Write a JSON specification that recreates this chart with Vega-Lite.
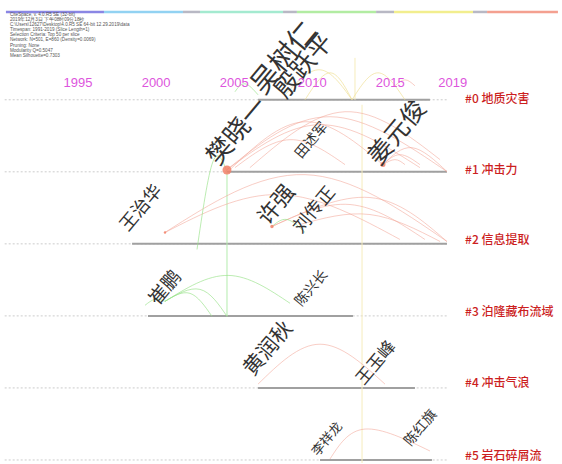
{
 "$schema": "https://vega.github.io/schema/vega-lite/v6.json",
 "width": 562, "height": 464,
 "autosize": {"type": "fit", "contains": "padding"},
 "padding": 0,
 "background": "white",
 "config": {"view": {"stroke": null}},
 "datasets": {
  "bar": [
   {"x": 1990.38, "x2": 1996.66, "y": -1.219, "k": "1"},
   {"x": 1996.66, "x2": 2001.72, "y": -1.219, "k": "2"},
   {"x": 2001.72, "x2": 2002.81, "y": -1.219, "k": "g"},
   {"x": 2002.81, "x2": 2008.13, "y": -1.219, "k": "3"},
   {"x": 2008.13, "x2": 2009.02, "y": -1.219, "k": "g"},
   {"x": 2009.02, "x2": 2014.09, "y": -1.219, "k": "4"},
   {"x": 2014.09, "x2": 2015.24, "y": -1.219, "k": "g"},
   {"x": 2015.24, "x2": 2020.30, "y": -1.219, "k": "5"},
   {"x": 2020.30, "x2": 2021.20, "y": -1.219, "k": "g"},
   {"x": 2021.20, "x2": 2025.74, "y": -1.219, "k": "6"}
  ],
  "lanes": [
   {"y": 0, "x": 2006.53, "x2": 2017.54, "d0": 1990.3, "d1": 2018.63},
   {"y": 1, "x": 2004.54, "x2": 2018.63, "d0": 1990.3, "d1": 2018.63},
   {"y": 2, "x": 1998.46, "x2": 2018.63, "d0": 1990.3, "d1": 2018.63},
   {"y": 3, "x": 1999.48, "x2": 2012.61, "d0": 1990.3, "d1": 2018.63},
   {"y": 4, "x": 2006.53, "x2": 2016.58, "d0": 1990.3, "d1": 2018.63},
   {"y": 5, "x": 2010.50, "x2": 2017.67, "d0": 1990.3, "d1": 2018.63}
  ],
  "vgreen": [{"x": 2004.54, "y": 1, "y2": 3.006}],
  "vyellow": [{"x": 2013.19, "y": 0.069, "y2": 5.042}, {"x": 2012.74, "y": -0.582, "y2": 0}],
  "arcsP": [
   {"id": "A1", "o": 1, "x": 2004.54, "y": 0.970}, {"id": "A1", "o": 2, "x": 2011.14, "y": 0.235}, {"id": "A1", "o": 3, "x": 2018.63, "y": 0.997},
   {"id": "A2", "o": 1, "x": 2004.54, "y": 0.970}, {"id": "A2", "o": 2, "x": 2010.50, "y": 0.346}, {"id": "A2", "o": 3, "x": 2016.90, "y": 0.942},
   {"id": "A3", "o": 1, "x": 2004.73, "y": 0.970}, {"id": "A3", "o": 2, "x": 2009.54, "y": 0.305}, {"id": "A3", "o": 3, "x": 2014.53, "y": 0.900},
   {"id": "A4", "o": 1, "x": 2005.05, "y": 0.942}, {"id": "A4", "o": 2, "x": 2008.58, "y": 0.554}, {"id": "A4", "o": 3, "x": 2012.10, "y": 0.900},
   {"id": "A5", "o": 1, "x": 2014.53, "y": 0.900}, {"id": "A5", "o": 2, "x": 2016.39, "y": 0.665}, {"id": "A5", "o": 3, "x": 2018.63, "y": 0.997},
   {"id": "A6", "o": 1, "x": 2014.53, "y": 0.900}, {"id": "A6", "o": 2, "x": 2015.62, "y": 0.762}, {"id": "A6", "o": 3, "x": 2016.90, "y": 0.900},
   {"id": "A7", "o": 1, "x": 2014.53, "y": 0.900}, {"id": "A7", "o": 2, "x": 2015.30, "y": 0.831}, {"id": "A7", "o": 3, "x": 2015.94, "y": 0.900},
   {"id": "A8", "o": 1, "x": 2006.01, "y": 0.942}, {"id": "A8", "o": 2, "x": 2012.10, "y": 0.166}, {"id": "A8", "o": 3, "x": 2018.19, "y": 0.831},
   {"id": "B1", "o": 1, "x": 2000.57, "y": 1.842}, {"id": "B1", "o": 2, "x": 2009.54, "y": 1.039}, {"id": "B1", "o": 3, "x": 2018.63, "y": 1.967},
   {"id": "B2", "o": 1, "x": 2000.57, "y": 1.842}, {"id": "B2", "o": 2, "x": 2007.94, "y": 1.316}, {"id": "B2", "o": 3, "x": 2015.62, "y": 1.939},
   {"id": "B3", "o": 1, "x": 2007.42, "y": 1.759}, {"id": "B3", "o": 2, "x": 2013.70, "y": 1.357}, {"id": "B3", "o": 3, "x": 2018.63, "y": 1.967},
   {"id": "B4", "o": 1, "x": 2007.42, "y": 1.759}, {"id": "B4", "o": 2, "x": 2012.42, "y": 1.454}, {"id": "B4", "o": 3, "x": 2017.22, "y": 1.939},
   {"id": "B5", "o": 1, "x": 2009.22, "y": 1.731}, {"id": "B5", "o": 2, "x": 2013.70, "y": 1.593}, {"id": "B5", "o": 3, "x": 2018.19, "y": 1.967},
   {"id": "C1", "o": 1, "x": 2006.53, "y": 3.947}, {"id": "C1", "o": 2, "x": 2010.50, "y": 3.393}, {"id": "C1", "o": 3, "x": 2014.66, "y": 3.947},
   {"id": "D1", "o": 1, "x": 2011.14, "y": 4.986}, {"id": "D1", "o": 2, "x": 2013.38, "y": 4.571}, {"id": "D1", "o": 3, "x": 2017.54, "y": 4.875},
   {"id": "P1", "o": 1, "x": 2015.30, "y": -0.194}, {"id": "P1", "o": 2, "x": 2015.94, "y": -0.277}, {"id": "P1", "o": 3, "x": 2016.58, "y": -0.194}
  ],
  "arcsG": [
   {"id": "G1", "o": 1, "x": 2002.62, "y": 2.078}, {"id": "G1", "o": 2, "x": 2003.64, "y": 0.859}, {"id": "G1", "o": 3, "x": 2004.54, "y": 0.997},
   {"id": "G2", "o": 1, "x": 2000.57, "y": 2.798}, {"id": "G2", "o": 2, "x": 2004.61, "y": 2.438}, {"id": "G2", "o": 3, "x": 2008.58, "y": 2.825},
   {"id": "G3", "o": 1, "x": 2000.57, "y": 2.798}, {"id": "G3", "o": 2, "x": 2002.81, "y": 2.632}, {"id": "G3", "o": 3, "x": 2004.54, "y": 3.006},
   {"id": "G4", "o": 1, "x": 2000.57, "y": 2.798}, {"id": "G4", "o": 2, "x": 2002.17, "y": 2.687}, {"id": "G4", "o": 3, "x": 2003.58, "y": 3.006},
   {"id": "G5", "o": 1, "x": 2000.57, "y": 2.798}, {"id": "G5", "o": 2, "x": 1999.93, "y": 2.770}, {"id": "G5", "o": 3, "x": 1999.29, "y": 2.853},
   {"id": "G6", "o": 1, "x": 2007.42, "y": 1.759}, {"id": "G6", "o": 2, "x": 2008.38, "y": 1.662}, {"id": "G6", "o": 3, "x": 2009.54, "y": 1.842},
   {"id": "G8", "o": 1, "x": 2005.05, "y": -0.111}, {"id": "G8", "o": 2, "x": 2005.69, "y": -0.222}, {"id": "G8", "o": 3, "x": 2006.53, "y": -0.069}
  ],
  "arcsY": [
   {"id": "Y1", "o": 1, "x": 2009.54, "y": 0}, {"id": "Y1", "o": 2, "x": 2011.14, "y": -0.374}, {"id": "Y1", "o": 3, "x": 2012.55, "y": 0},
   {"id": "Y2", "o": 1, "x": 2012.55, "y": 0}, {"id": "Y2", "o": 2, "x": 2014.21, "y": -0.374}, {"id": "Y2", "o": 3, "x": 2015.94, "y": 0},
   {"id": "Y3", "o": 1, "x": 2008.26, "y": -0.069}, {"id": "Y3", "o": 2, "x": 2010.50, "y": -0.416}, {"id": "Y3", "o": 3, "x": 2012.55, "y": 0}
  ],
  "nodes": [
   {"x": 2004.54, "y": 0.975, "n": 80},
   {"x": 2014.53, "y": 0.900, "n": 25},
   {"x": 2007.42, "y": 1.759, "n": 12},
   {"x": 2000.57, "y": 1.842, "n": 6}
  ],
  "authors": [
   {"t": "吴树仁", "x": 2006.90, "y": -0.055, "n": 28},
   {"t": "殷跃平", "x": 2008.30, "y": 0.0, "n": 25},
   {"t": "樊晓一", "x": 2004.00, "y": 0.925, "n": 26},
   {"t": "田述军", "x": 2009.30, "y": 0.825, "n": 14},
   {"t": "姜元俊", "x": 2014.30, "y": 0.925, "n": 25},
   {"t": "王治华", "x": 1998.20, "y": 1.840, "n": 18},
   {"t": "许强", "x": 2007.15, "y": 1.755, "n": 22},
   {"t": "刘传正", "x": 2009.30, "y": 1.865, "n": 18},
   {"t": "崔鹏", "x": 2000.10, "y": 2.865, "n": 19},
   {"t": "陈兴长", "x": 2009.30, "y": 2.878, "n": 14},
   {"t": "黄润秋", "x": 2006.20, "y": 3.848, "n": 21},
   {"t": "王玉峰", "x": 2013.30, "y": 3.970, "n": 17},
   {"t": "李祥龙", "x": 2010.35, "y": 4.955, "n": 13},
   {"t": "陈红旗", "x": 2016.30, "y": 4.815, "n": 14}
  ],
  "years": [
   {"t": "1995", "x": 1995, "y": -0.235},
   {"t": "2000", "x": 2000, "y": -0.235},
   {"t": "2005", "x": 2005, "y": -0.235},
   {"t": "2010", "x": 2010, "y": -0.235},
   {"t": "2015", "x": 2015, "y": -0.235},
   {"t": "2019", "x": 2019, "y": -0.235}
  ],
  "info": [
   {"t": "CiteSpace, v. 4.0.R5 SE (32-bit)", "x": 1990.64, "y": -1.177},
   {"t": "2019年12月3日 下午08时09分18秒", "x": 1990.64, "y": -1.107},
   {"t": "C:\\Users\\12627\\Desktop\\4.0.R5 SE 64-bit 12.29.2019\\data", "x": 1990.64, "y": -1.036},
   {"t": "Timespan: 1991-2019 (Slice Length=1)", "x": 1990.64, "y": -0.965},
   {"t": "Selection Criteria: Top 50 per slice", "x": 1990.64, "y": -0.895},
   {"t": "Network: N=501, E=860 (Density=0.0069)", "x": 1990.64, "y": -0.824},
   {"t": "Pruning: None", "x": 1990.64, "y": -0.753},
   {"t": "Modularity Q=0.5047", "x": 1990.64, "y": -0.683},
   {"t": "Mean Silhouette=0.7303", "x": 1990.64, "y": -0.612}
  ],
  "clusters": [
   {"t": "#0 地质灾害", "x": 2019.79, "y": -0.014},
   {"t": "#1 冲击力", "x": 2019.79, "y": 0.970},
   {"t": "#2 信息提取", "x": 2019.79, "y": 1.953},
   {"t": "#3 泊隆藏布流域", "x": 2019.79, "y": 2.950},
   {"t": "#4 冲击气浪", "x": 2019.79, "y": 3.934},
   {"t": "#5 岩石碎屑流", "x": 2019.79, "y": 4.945}
  ]
 },
 "encoding": {
  "x": {"field": "x", "type": "quantitative", "scale": {"domain": [1990, 2026], "nice": false, "zero": false}, "axis": null},
  "y": {"field": "y", "type": "quantitative", "scale": {"domain": [-1.385, 5.042], "reverse": true, "nice": false, "zero": false}, "axis": null}
 },
 "layer": [
  {
   "data": {"name": "bar"},
   "mark": {"type": "rule", "strokeWidth": 2.5},
   "encoding": {
    "x2": {"field": "x2"},
    "color": {"field": "k", "type": "nominal", "legend": null,
     "scale": {"domain": ["1", "2", "3", "4", "5", "6", "g"], "range": ["#8a86e4", "#92d2f2", "#a4ead0", "#b2eca2", "#f2ee8e", "#f4a090", "#b8b8c4"]}}
   }
  },
  {
   "data": {"name": "lanes"},
   "mark": {"type": "rule", "color": "#cccccc", "strokeWidth": 1, "strokeDash": [2, 2]},
   "encoding": {"x": {"field": "d0", "type": "quantitative"}, "x2": {"field": "d1"}}
  },
  {
   "data": {"name": "lanes"},
   "mark": {"type": "rule", "color": "#a0a0a0", "strokeWidth": 2},
   "encoding": {"x2": {"field": "x2"}}
  },
  {
   "data": {"name": "vgreen"},
   "mark": {"type": "rule", "color": "#b4ecae", "strokeWidth": 1},
   "encoding": {"y2": {"field": "y2"}}
  },
  {
   "data": {"name": "vyellow"},
   "mark": {"type": "rule", "color": "#f6ecbc", "strokeWidth": 1},
   "encoding": {"y2": {"field": "y2"}}
  },
  {
   "data": {"name": "arcsP"},
   "mark": {"type": "line", "interpolate": "natural", "color": "#f3a496", "strokeWidth": 1, "opacity": 0.55},
   "encoding": {"detail": {"field": "id"}, "order": {"field": "o", "type": "quantitative"}}
  },
  {
   "data": {"name": "arcsG"},
   "mark": {"type": "line", "interpolate": "natural", "color": "#98e288", "strokeWidth": 1, "opacity": 0.65},
   "encoding": {"detail": {"field": "id"}, "order": {"field": "o", "type": "quantitative"}}
  },
  {
   "data": {"name": "arcsY"},
   "mark": {"type": "line", "interpolate": "natural", "color": "#f0e096", "strokeWidth": 1, "opacity": 0.7},
   "encoding": {"detail": {"field": "id"}, "order": {"field": "o", "type": "quantitative"}}
  },
  {
   "data": {"name": "nodes"},
   "mark": {"type": "circle", "color": "#f28068", "opacity": 0.85},
   "encoding": {"size": {"field": "n", "type": "quantitative", "legend": null, "scale": {"type": "linear", "domain": [0, 100], "range": [0, 100]}}}
  },
  {
   "data": {"name": "authors"},
   "mark": {"type": "text", "angle": 310, "align": "left", "baseline": "alphabetic", "font": "Noto Sans CJK SC", "fontWeight": "normal", "color": "#333333"},
   "encoding": {
    "text": {"field": "t"},
    "size": {"field": "n", "type": "quantitative", "legend": null, "scale": {"type": "linear", "domain": [10, 30], "range": [10, 30]}}
   }
  },
  {
   "data": {"name": "years"},
   "mark": {"type": "text", "align": "center", "baseline": "middle", "font": "Liberation Sans", "fontSize": 13, "color": "#dd55dd"},
   "encoding": {"text": {"field": "t"}}
  },
  {
   "data": {"name": "info"},
   "mark": {"type": "text", "align": "left", "baseline": "middle", "font": "Liberation Sans", "fontSize": 4.6, "color": "#555555"},
   "encoding": {"text": {"field": "t"}}
  },
  {
   "data": {"name": "clusters"},
   "mark": {"type": "text", "align": "left", "baseline": "middle", "font": "Noto Sans CJK SC", "fontSize": 12, "fontWeight": 500, "color": "#cc1f1f"},
   "encoding": {"text": {"field": "t"}}
  }
 ]
}
